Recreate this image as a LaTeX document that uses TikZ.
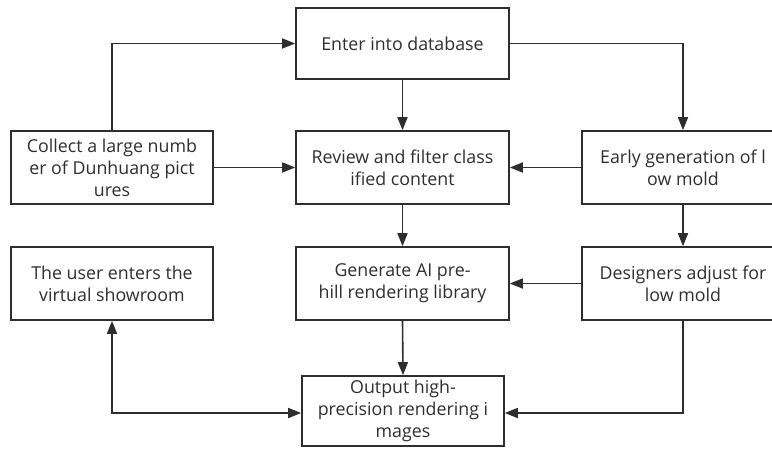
\documentclass[tikz,border=0pt]{standalone}
\usepackage{fontspec}
\setmainfont{Open Sans}
\usetikzlibrary{arrows.meta}
\definecolor{ink}{HTML}{2E2E2E}
\begin{document}
\begin{tikzpicture}[x=1pt,y=-1pt,
  box/.style={draw=ink,line width=1.6pt,minimum width=202pt,minimum height=73pt,inner sep=0pt,
    align=center,text=ink,font=\fontsize{17.8}{22}\selectfont},
  arr/.style={draw=ink,line width=1.6pt,-{Triangle[length=13pt,width=10pt]}},
  darr/.style={draw=ink,line width=1.6pt,{Triangle[length=13pt,width=10pt]}-{Triangle[length=13pt,width=10pt]}}]
\useasboundingbox (0,0) rectangle (772,450);
\begin{scope}
\clip (0,0) rectangle (772,450);
\node[box,minimum width=213pt,minimum height=71pt] (enter) at (402.5,43.5) {Enter into database};
\node[box] (collect) at (112,167.5) {Collect a large numb\\er of Dunhuang pict\\ures};
\node[box,minimum width=213pt] (review) at (402.5,167.5) {Review and filter class\\ified content};
\node[box] (early) at (683,167.5) {Early generation of l\\ow mold};
\node[box] (user) at (112,283.5) {The user enters the\\virtual showroom};
\node[box,minimum width=213pt] (gen) at (402.5,283.5) {Generate AI pre-\\hill rendering library};
\node[box] (design) at (683,283.5) {Designers adjust for\\low mold};
\node[box,minimum height=70pt] (out) at (403,411) {Output high-\\precision rendering i\\mages};
\end{scope}
\draw[arr] (collect.north) |- (enter.west);
\draw[arr] (collect.east) -- (review.west);
\draw[arr] (enter.south) -- (review.north);
\draw[arr] (enter.east) -| (early.north);
\draw[arr] (early.west) -- (review.east);
\draw[arr] (review.south) -- (gen.north);
\draw[arr] (early.south) -- (design.north);
\draw[arr] (design.west) -- (gen.east);
\draw[arr] (gen.south) -- (out.north);
\coordinate (dcorner) at (design.south |- 0,413);
\draw[arr] (design.south) -- (dcorner) -- (dcorner -| out.east);
\coordinate (ucorner) at (user.south |- 0,413);
\draw[darr] (user.south) -- (ucorner) -- (ucorner -| out.west);
\end{tikzpicture}
\end{document}
